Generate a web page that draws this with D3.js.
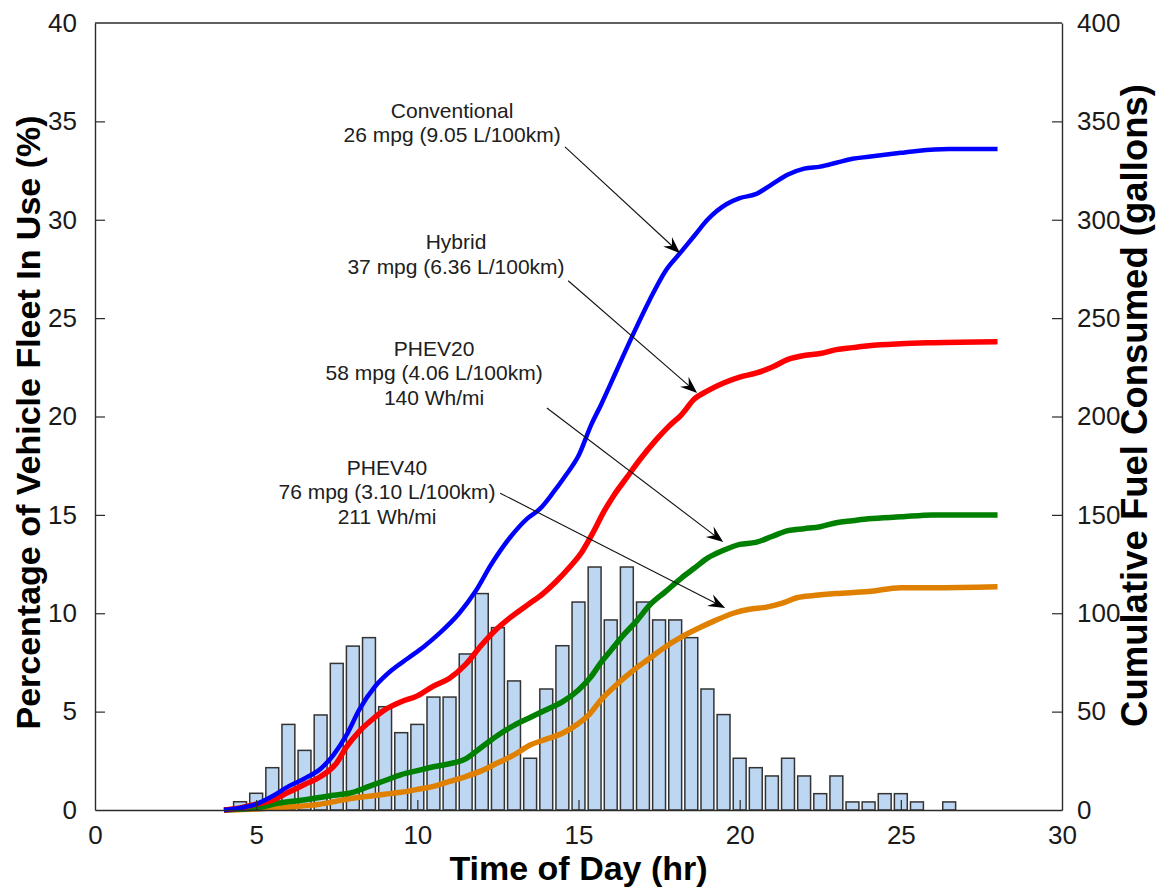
<!DOCTYPE html>
<html>
<head>
<meta charset="utf-8">
<script src="https://cdn.jsdelivr.net/npm/d3@7"></script>
<style>
  html, body { margin: 0; padding: 0; background: #fff; }
  svg { display: block; font-family: "Liberation Sans", Arial, sans-serif; }
</style>
</head>
<body>
<svg id="chart" width="1159" height="888"></svg>
<script>
// ---------------- DATA ----------------
// Histogram: share of fleet in use (%) per half-hour bin (bin centers in hours)
const binCenters = [4.5,5,5.5,6,6.5,7,7.5,8,8.5,9,9.5,10,10.5,11,11.5,12,12.5,13,13.5,14,14.5,15,15.5,16,16.5,17,17.5,18,18.5,19,19.5,20,20.5,21,21.5,22,22.5,23,23.5,24,24.5,25,25.5,26.5];
const fleetInUse = [0.42,0.85,2.15,4.35,3.03,4.83,7.45,8.33,8.76,5.25,3.93,4.35,5.74,5.74,7.93,11.0,9.27,6.56,2.63,6.15,8.35,10.57,12.35,9.66,12.35,10.57,9.66,9.66,8.76,6.15,4.85,2.63,2.15,1.73,2.63,1.73,0.83,1.73,0.41,0.41,0.83,0.83,0.41,0.41];

// Cumulative fuel consumed (gallons) vs time of day (hr)
const convHours = [4,4.5,5,5.5,6,6.5,7,7.4,7.8,8.2,8.7,9.2,9.7,10.2,10.7,11.3,11.8,12.3,12.9,13.4,13.8,14.2,14.6,15,15.4,15.7,16.2,16.7,17.2,17.7,18.15,18.6,19,19.6,20,20.5,21,21.5,22,22.5,23,23.5,24,24.5,25,25.5,26.5,28];
const convGallons = [0,1,3,7,12,16,21,28,38,51,63,71,77,83,90,100,111,125,139,148,153,161,170,180,196,206,224,242,259,274,283,292,300,308,311,313,318,323,326,327,329,331,332,333,334,335,336,336];

const hybHours = [4,4.5,5,5.5,6,6.5,7,7.5,7.8,8.2,8.6,9,9.5,10,10.5,11,11.5,12,12.4,12.9,13.4,13.9,14.3,14.7,15.1,15.45,15.8,16.1,16.5,16.9,17.4,17.8,18.2,18.6,19,19.5,20,20.5,21,21.5,22,22.5,23,23.5,24,25,26,28];
const hybGallons = [0,1,3,5,9,13,17,24,32,40,46,51,55,58,63,67,74,84,91,98,104,110,116,123,131,141,152,160,169,178,188,195,201,209,213,217,220,222,225,229,231,232,234,235,236,237,237.5,238];

const p20Hours = [4,5,5.7,6.4,7.4,8,8.5,9,9.5,10,10.5,11,11.5,12,12.5,13,13.5,14,14.5,15,15.4,15.7,16,16.4,16.8,17.2,17.7,18.2,18.6,19,19.5,20,20.5,21,21.5,22,22.5,23,23.5,24,25,26,28];
const p20Gallons = [0,1,3.5,5,7.5,9,12,15,18,20,22,23.5,26,32,38,43,47,51,55,61,68,75,81,89,96,104,111,118,123,128,132,135,136,139,142,143,144,146,147,148,149,150,150];

const p40Hours = [4,5,6,7,7.5,8,8.5,9,9.5,10,10.5,11,11.5,12,12.5,13,13.5,14,14.5,15,15.3,15.7,16.2,16.7,17.2,17.7,18.2,18.8,19.2,19.8,20.3,20.8,21.3,21.8,22.3,23,24,25,26,28];
const p40Gallons = [0,0.5,1.5,3,4.5,6,7,8,9,10.5,12,14.5,17,20,24,28,33,36,39,44,48,56,64,71,77,83,88,93,96,100,102,103,105,108,109,110,111,113,113,113.5];

// Axis tick labels
const xTicks = [0,5,10,15,20,25,30];
const yLeftTicks = [0,5,10,15,20,25,30,35,40];
const yRightTicks = [0,50,100,150,200,250,300,350,400];

const seriesNames = ["Conventional","Hybrid","PHEV20","PHEV40"];
const seriesLabels = [
  ["Conventional","26 mpg (9.05 L/100km)"],
  ["Hybrid","37 mpg (6.36 L/100km)"],
  ["PHEV20","58 mpg (4.06 L/100km)","140 Wh/mi"],
  ["PHEV40","76 mpg (3.10 L/100km)","211 Wh/mi"]
];

// ---------------- LAYOUT ----------------
const W = 1159, H = 888;
const m = {left: 95, right: 97, top: 23, bottom: 78};
const iw = W - m.left - m.right, ih = H - m.top - m.bottom;

const svg = d3.select("#chart");
const g = svg.append("g").attr("transform", `translate(${m.left},${m.top})`);

const x = d3.scaleLinear().domain([0,30]).range([0, iw]);
const yL = d3.scaleLinear().domain([0,40]).range([ih, 0]);
const yR = d3.scaleLinear().domain([0,400]).range([ih, 0]);

const axisColor = "#2b2b2b";
const tickFont = 26;

// ---------------- BARS ----------------
const binW = 0.5, barFrac = 0.8;
g.append("g").selectAll("rect")
  .data(binCenters.map((c,i)=>({c, v: fleetInUse[i]})))
  .join("rect")
  .attr("x", d => x(d.c - binW*barFrac/2))
  .attr("width", d => x(binW*barFrac) - x(0))
  .attr("y", d => yL(d.v))
  .attr("height", d => yL(0) - yL(d.v))
  .attr("fill", "#bdd6f1")
  .attr("stroke", "#333")
  .attr("stroke-width", 1.5);

// ---------------- CURVES ----------------
const curves = [
  {h: convHours, v: convGallons, color: "#0000ff", w: 4.5},
  {h: hybHours, v: hybGallons, color: "#ff0000", w: 5.5},
  {h: p20Hours, v: p20Gallons, color: "#008000", w: 5.5},
  {h: p40Hours, v: p40Gallons, color: "#e08000", w: 5.5}
];
const line = d3.line().x(d => x(d[0])).y(d => yR(d[1])).curve(d3.curveMonotoneX);
curves.slice().reverse().forEach(c => {
  g.append("path")
    .datum(c.h.map((h,i)=>[h, c.v[i]]))
    .attr("d", line)
    .attr("fill", "none")
    .attr("stroke", c.color)
    .attr("stroke-width", c.w)
    .attr("stroke-linejoin", "round");
});

// ---------------- AXES ----------------
const tickLen = 10;
const xAxis = g.append("g").attr("transform", `translate(0,${ih})`)
  .call(d3.axisBottom(x).tickValues(xTicks).tickSizeInner(-tickLen).tickSizeOuter(0).tickPadding(tickLen + 6).tickFormat(d3.format("d")));
const yAxisL = g.append("g")
  .call(d3.axisLeft(yL).tickValues(yLeftTicks).tickSizeInner(-tickLen).tickSizeOuter(0).tickPadding(tickLen + 8).tickFormat(d3.format("d")));
const yAxisR = g.append("g").attr("transform", `translate(${iw},0)`)
  .call(d3.axisRight(yR).tickValues(yRightTicks).tickSizeInner(-tickLen).tickSizeOuter(0).tickPadding(tickLen + 5).tickFormat(d3.format("d")));
g.append("line").attr("x1", 0).attr("x2", iw).attr("y1", 0).attr("y2", 0)
  .attr("stroke", axisColor).attr("stroke-width", 1.4);

[xAxis, yAxisL, yAxisR].forEach(a => {
  a.select(".domain").attr("stroke", axisColor).attr("stroke-width", 1.4);
  a.selectAll(".tick line").attr("stroke", axisColor).attr("stroke-width", 1.2);
  a.selectAll(".tick text").attr("fill", "#1a1a1a").style("font-size", tickFont + "px")
    .style("font-family", "'Liberation Sans', Arial, sans-serif");
});
xAxis.selectAll(".tick").filter(d => d === 0 || d === 30).select("line").remove();
yAxisL.selectAll(".tick").filter(d => d === 0 || d === 40).select("line").remove();
yAxisR.selectAll(".tick").filter(d => d === 0 || d === 400).select("line").remove();

// ---------------- AXIS TITLES ----------------
svg.append("text")
  .attr("x", m.left + iw/2).attr("y", 880)
  .attr("text-anchor", "middle")
  .style("font-weight", "bold").style("font-size", "34px").attr("fill", "#000")
  .text("Time of Day (hr)");

svg.append("text")
  .attr("transform", `translate(40,${m.top + ih/2 + 6}) rotate(-90)`)
  .attr("text-anchor", "middle")
  .style("font-weight", "bold").style("font-size", "34px").attr("fill", "#000")
  .text("Percentage of Vehicle Fleet In Use (%)");

svg.append("text")
  .attr("transform", `translate(1147,${m.top + ih/2 - 11}) rotate(-90)`)
  .attr("text-anchor", "middle")
  .style("font-weight", "bold").style("font-size", "36.5px").attr("fill", "#000")
  .text("Cumulative Fuel Consumed (gallons)");

// ---------------- ANNOTATIONS ----------------
const annos = [
  {tx: 11.08, ty: 35.55, from: [14.58, 33.7], to: [18.15, 28.3]},
  {tx: 11.2,  ty: 28.85, from: [14.68, 26.9], to: [18.68, 21.2]},
  {tx: 10.52, ty: 23.45, from: [14.02, 20.43], to: [19.49, 13.62]},
  {tx: 9.06,  ty: 17.4,  from: [12.57, 16.1], to: [19.55, 10.27]}
];
const lineH = 24.5;
annos.forEach((a, i) => {
  const lines = seriesLabels[i];
  const t = g.append("text")
    .attr("text-anchor", "middle")
    .style("font-size", "21px").attr("fill", "#202020");
  lines.forEach((s, k) => {
    t.append("tspan").attr("x", x(a.tx)).attr("y", yL(a.ty) + 7 + k*lineH).text(s);
  });
  const x1 = x(a.from[0]), y1 = yL(a.from[1]), x2 = x(a.to[0]), y2 = yL(a.to[1]);
  const ang = Math.atan2(y2 - y1, x2 - x1);
  const L = 17, Wd = 6.5, back = 11;
  g.append("line").attr("x1", x1).attr("y1", y1)
    .attr("x2", x2 - Math.cos(ang)*back).attr("y2", y2 - Math.sin(ang)*back)
    .attr("stroke", "#111").attr("stroke-width", 1.1);
  const pts = [[0,0],[-L,-Wd],[-back,0],[-L,Wd]].map(([u,v]) =>
    [x2 + u*Math.cos(ang) - v*Math.sin(ang), y2 + u*Math.sin(ang) + v*Math.cos(ang)]);
  g.append("path").attr("d", "M" + pts.map(p => p.join(",")).join("L") + "Z")
    .attr("fill", "#000");
});
</script>
</body>
</html>
